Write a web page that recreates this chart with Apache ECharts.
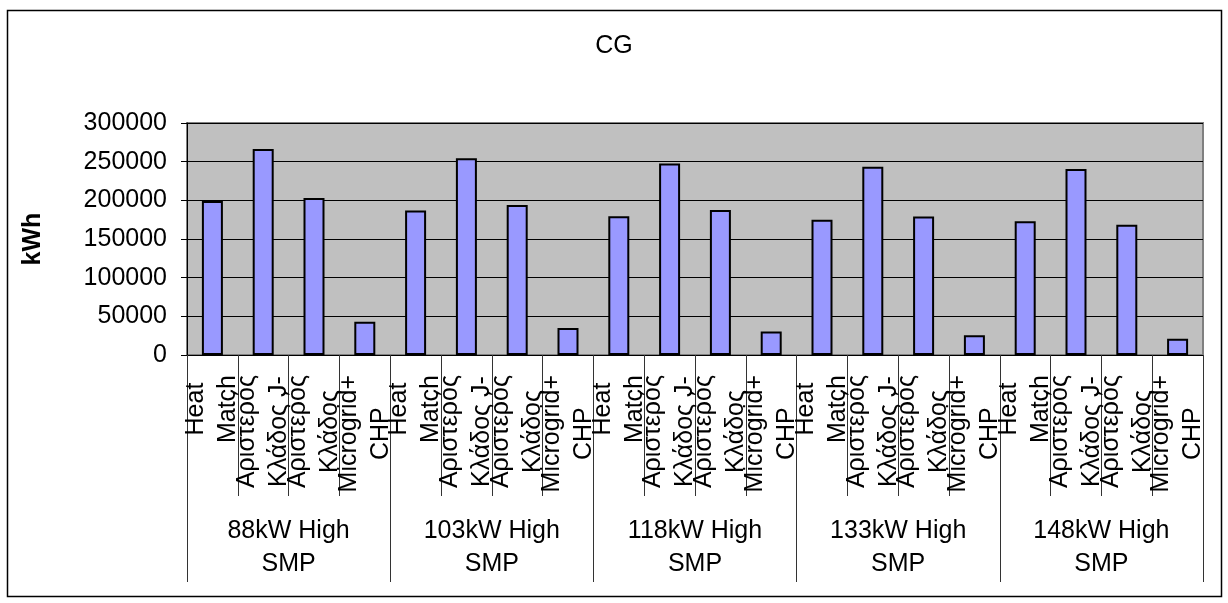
<!DOCTYPE html>
<html>
<head>
<meta charset="utf-8">
<script src="https://cdn.jsdelivr.net/npm/echarts@6/dist/echarts.min.js"></script>
<style>
  html, body { margin: 0; padding: 0; background: #ffffff; }
  #chart { width: 1228px; height: 603px; }
</style>
</head>
<body>
<div id="chart"></div>
<script>
// ---- data ----
const title = 'CG';
const yAxisName = 'kWh';
const groups = ['88kW High SMP', '103kW High SMP', '118kW High SMP', '133kW High SMP', '148kW High SMP'];
const categories = ['Heat Match', 'Αριστερός Κλάδος J-', 'Αριστερός Κλάδος', 'Microgrid+ CHP'];
const values88  = [199000, 266500, 203000, 43000];
const values103 = [187000, 254500, 194000, 35000];
const values118 = [179500, 247500, 187500, 30500];
const values133 = [175000, 243500, 179000, 25500];
const values148 = [173000, 240500, 168500, 21000];
const yTicks = [0, 50000, 100000, 150000, 200000, 250000, 300000];

// ---- build ----
const groupValues = [values88, values103, values118, values133, values148];
const xCats = [];
const yVals = [];
groups.forEach((g, gi) => {
  categories.forEach((c, ci) => {
    xCats.push(c);
    yVals.push(groupValues[gi][ci]);
  });
});

const FONT = '"Liberation Sans", Arial, sans-serif';
const FS = 25;

const chart = echarts.init(document.getElementById('chart'), null, { renderer: 'canvas' });
chart.setOption({
  backgroundColor: '#ffffff',
  animation: false,
  title: {
    text: title,
    left: 'center',
    top: 29,
    textStyle: { fontFamily: FONT, fontSize: FS, fontWeight: 'normal', color: '#000' }
  },
  graphic: [{
    type: 'rect',
    shape: { x: 7.5, y: 10.5, width: 1214, height: 586 },
    style: { fill: null, stroke: '#000', lineWidth: 1.5 },
    silent: true
  }],
  grid: {
    left: 187, right: 25, top: 123, bottom: 248,
    show: true, backgroundColor: '#c0c0c0', borderColor: '#808080', borderWidth: 2
  },
  xAxis: [{
    type: 'category',
    data: xCats,
    position: 'bottom',
    axisLine: { show: true, lineStyle: { color: '#000', width: 1 } },
    axisTick: { show: true, interval: 0, length: 141, lineStyle: { color: '#333', width: 1 } },
    axisLabel: {
      interval: 0,
      rotate: 90,
      margin: 20,
      fontFamily: FONT,
      fontSize: FS,
      color: '#000',
      formatter: v => {
        const i = v.indexOf(' ');
        const a = v.slice(0, i), b = v.slice(i + 1);
        return '{a|' + a + '}\n{a|' + b + '}';
      },
      rich: { a: { align: 'center', lineHeight: 32, fontFamily: FONT, fontSize: FS, color: '#000' } }
    },
    splitLine: { show: false }
  }, {
    type: 'category',
    data: groups,
    position: 'bottom',
    axisLine: { show: true, lineStyle: { color: '#000', width: 1 } },
    axisTick: { show: true, interval: 0, length: 227, lineStyle: { color: '#333', width: 1 } },
    axisLabel: {
      interval: 0,
      margin: 160,
      fontFamily: FONT,
      fontSize: FS,
      lineHeight: 33,
      color: '#000',
      formatter: v => {
        const i = v.lastIndexOf(' ');
        return v.slice(0, i) + '\n' + v.slice(i + 1);
      }
    },
    splitLine: { show: false }
  }],
  yAxis: {
    type: 'value',
    min: yTicks[0],
    max: yTicks[yTicks.length - 1],
    interval: yTicks[1] - yTicks[0],
    name: yAxisName,
    nameLocation: 'middle',
    nameGap: 141,
    nameRotate: 90,
    nameTextStyle: { fontFamily: FONT, fontSize: FS, fontWeight: 'bold', color: '#000' },
    axisLine: { show: true, lineStyle: { color: '#000', width: 1 } },
    axisTick: { show: true, length: 6, lineStyle: { color: '#000' } },
    axisLabel: { margin: 20, fontFamily: FONT, fontSize: FS, color: '#000', formatter: v => String(v) },
    splitLine: { show: true, lineStyle: { color: '#000', width: 1 } }
  },
  series: [{
    type: 'bar',
    xAxisIndex: 0,
    data: yVals,
    barWidth: 21,
    itemStyle: { color: '#9999ff', borderColor: '#000', borderWidth: 2 }
  }]
});
</script>
</body>
</html>
